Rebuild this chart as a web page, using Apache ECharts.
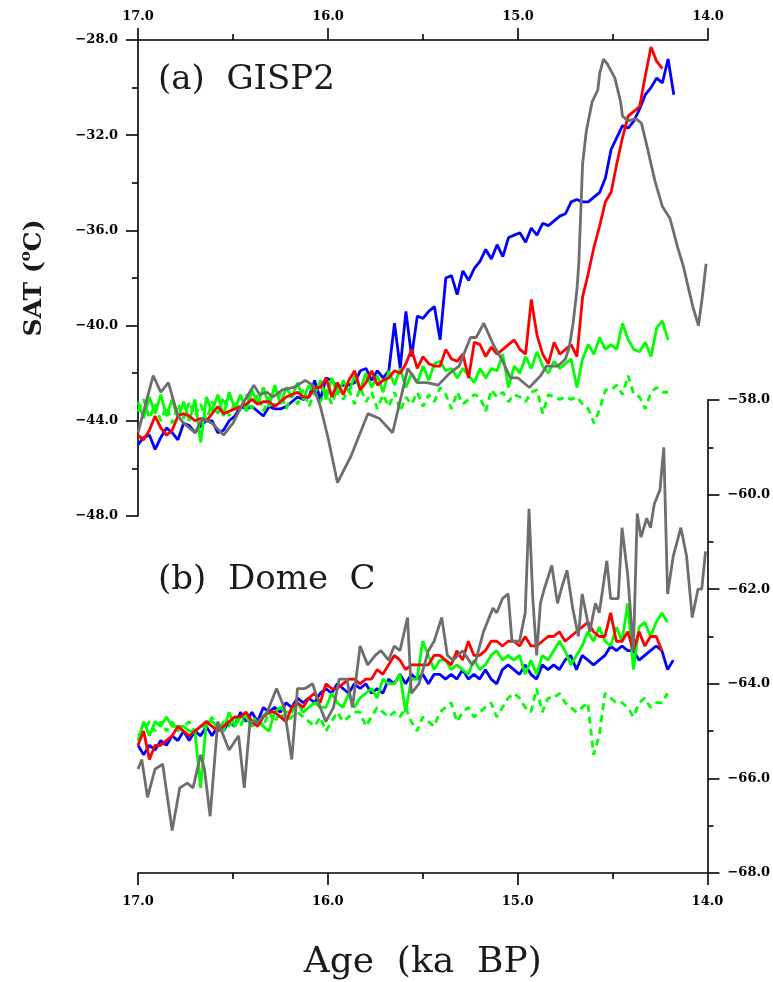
<!DOCTYPE html>
<html>
<head>
<meta charset="utf-8">
<script src="https://cdn.jsdelivr.net/npm/echarts@6/dist/echarts.min.js"></script>
<style>html,body{margin:0;padding:0;background:#fff;}#chart{width:773px;height:982px;}</style>
</head>
<body>
<div id="chart"></div>
<script>
// Shared model age grid (ka BP)
const ages = [17.00,16.97,16.94,16.91,16.88,16.85,16.82,16.79,16.76,16.73,
16.70,16.67,16.64,16.61,16.58,16.55,16.52,16.49,16.46,16.43,
16.40,16.37,16.34,16.31,16.28,16.25,16.22,16.19,16.16,16.13,
16.10,16.07,16.04,16.01,15.98,15.95,15.92,15.89,15.86,15.83,
15.80,15.77,15.74,15.71,15.68,15.65,15.62,15.59,15.56,15.53,
15.50,15.47,15.44,15.41,15.38,15.35,15.32,15.29,15.26,15.23,
15.20,15.17,15.14,15.11,15.08,15.05,15.02,14.99,14.96,14.93,
14.90,14.87,14.84,14.81,14.78,14.75,14.72,14.69,14.66,14.63,
14.60,14.57,14.54,14.51,14.48,14.45,14.42,14.39,14.36,14.33,
14.30,14.27,14.24,14.21,14.18];

// (a) GISP2 panel
const gispBlue = [-45.0,-44.7,-44.6,-45.2,-44.7,-44.3,-44.5,-44.8,-44.1,-44.2,
-44.5,-44.2,-44.0,-44.0,-44.5,-44.4,-44.0,-43.8,-43.4,-43.5,
-43.4,-43.6,-43.8,-43.4,-43.5,-43.5,-43.4,-43.2,-43.0,-43.1,
-43.0,-42.3,-43.1,-42.2,-42.3,-42.6,-42.5,-42.5,-42.4,-41.9,
-41.8,-42.3,-41.9,-42.2,-41.9,-39.9,-41.8,-39.4,-41.3,-39.6,
-39.7,-39.4,-39.2,-40.6,-38.0,-37.9,-38.7,-37.7,-38.1,-37.6,
-37.3,-36.8,-37.2,-36.6,-37.1,-36.3,-36.2,-36.1,-36.5,-35.9,
-36.2,-35.7,-35.8,-35.6,-35.4,-35.3,-34.8,-34.7,-34.8,-34.8,
-34.6,-34.4,-33.8,-32.6,-32.1,-31.6,-31.7,-31.4,-30.9,-30.3,
-30.0,-29.6,-29.8,-28.8,-30.3];
const gispRed = [-44.6,-44.8,-44.4,-43.8,-44.3,-44.6,-44.4,-43.8,-43.7,-43.8,
-44.0,-43.9,-44.0,-43.7,-43.4,-43.7,-43.6,-43.5,-43.4,-43.3,
-43.1,-43.3,-43.2,-43.2,-43.4,-43.2,-43.0,-42.9,-42.8,-43.0,
-43.0,-42.6,-42.6,-42.2,-43.0,-42.4,-42.9,-42.3,-41.9,-42.7,
-42.4,-41.9,-42.5,-42.3,-42.2,-41.9,-42.0,-41.6,-41.0,-41.8,
-41.3,-41.6,-41.7,-41.7,-41.0,-41.4,-41.5,-41.2,-42.2,-40.7,
-40.8,-41.3,-40.9,-41.2,-41.0,-40.8,-40.6,-41.0,-41.2,-38.9,
-40.4,-41.2,-41.6,-40.7,-41.2,-41.0,-40.8,-41.3,-38.8,-37.8,
-36.7,-35.8,-34.8,-34.4,-33.2,-32.1,-31.2,-31.0,-30.8,-29.5,
-28.3,-28.9,-29.2];
const gispGreen = [-43.2,-43.9,-43.0,-43.7,-42.9,-43.8,-43.1,-43.9,-43.2,-44.0,
-43.1,-44.9,-43.0,-43.6,-42.9,-43.8,-42.8,-43.5,-42.9,-43.6,
-42.7,-43.3,-42.6,-43.4,-42.5,-43.3,-42.6,-43.0,-42.4,-43.1,
-42.5,-42.9,-42.3,-43.1,-42.2,-42.9,-42.3,-42.8,-42.1,-42.7,
-42.0,-42.6,-42.1,-42.8,-41.9,-42.5,-41.8,-42.6,-42.0,-42.4,
-41.7,-42.3,-41.6,-41.5,-41.9,-41.8,-42.2,-41.8,-42.1,-42.4,
-41.8,-42.2,-41.8,-41.9,-41.2,-42.6,-41.7,-42.0,-41.3,-41.8,
-41.1,-41.7,-42.0,-41.5,-41.8,-41.6,-41.4,-42.6,-41.4,-40.8,
-41.2,-40.5,-41.0,-40.8,-41.0,-39.9,-40.6,-41.0,-41.1,-40.7,
-41.3,-40.1,-39.8,-40.6];
const gispGreenDash = [-43.6,-43.1,-43.9,-43.3,-44.0,-43.4,-44.1,-43.3,-43.9,-43.2,
-43.8,-43.3,-44.0,-43.2,-43.7,-43.0,-43.8,-43.2,-43.6,-42.9,
-43.5,-42.9,-43.6,-43.0,-43.4,-42.8,-43.5,-42.9,-43.3,-42.7,
-43.4,-42.8,-43.2,-42.7,-43.3,-42.6,-43.1,-42.7,-43.3,-42.6,
-43.2,-42.8,-43.5,-42.9,-43.4,-42.8,-43.6,-43.0,-43.3,-42.8,
-43.4,-42.9,-43.2,-42.6,-42.9,-43.5,-42.8,-43.3,-43.1,-42.9,
-43.0,-43.6,-42.7,-43.0,-42.8,-43.2,-42.9,-43.0,-43.2,-42.8,
-42.7,-43.7,-42.9,-43.0,-43.1,-43.0,-43.1,-43.0,-43.3,-43.5,
-44.1,-43.5,-42.7,-42.7,-42.5,-42.9,-42.1,-42.9,-43.0,-43.5,
-42.8,-42.6,-42.8,-42.8];
const gispGrayAge = [17.00,16.92,16.88,16.84,16.79,16.76,16.70,16.66,16.61,16.55,
16.50,16.45,16.39,16.36,16.32,16.29,16.24,16.18,16.12,16.08,
16.04,16.00,15.95,15.88,15.79,15.73,15.66,15.58,15.53,15.48,
15.42,15.36,15.31,15.25,15.22,15.18,15.13,15.08,15.04,15.00,
14.94,14.88,14.85,14.79,14.75,14.73,14.71,14.69,14.68,14.66,
14.64,14.61,14.58,14.57,14.55,14.53,14.52,14.49,14.46,14.45,
14.42,14.38,14.35,14.32,14.28,14.24,14.20,14.16,14.13,14.08,
14.05,14.03,14.01];
const gispGray = [-44.5,-42.1,-42.8,-42.4,-43.8,-44.1,-44.5,-43.9,-44.1,-44.6,
-44.1,-43.3,-42.5,-42.9,-42.8,-43.0,-42.7,-42.6,-42.3,-42.5,
-43.4,-44.7,-46.6,-45.5,-43.7,-43.9,-44.5,-41.8,-42.4,-42.4,
-42.5,-42.0,-41.7,-40.5,-40.5,-39.9,-40.8,-41.5,-42.2,-42.2,
-42.6,-42.1,-41.7,-41.7,-41.4,-40.9,-39.9,-38.5,-37.4,-33.2,
-31.8,-30.6,-30.1,-29.4,-28.8,-29.0,-29.0,-29.6,-30.6,-31.2,
-31.4,-31.3,-31.5,-32.5,-33.9,-35.0,-35.5,-36.7,-37.5,-39.2,
-40.0,-38.8,-37.4];

// (b) Dome C panel
const domeBlue = [-65.3,-65.5,-65.3,-65.4,-65.2,-65.3,-65.1,-65.2,-65.0,-65.2,
-65.0,-65.1,-64.9,-65.1,-64.9,-65.0,-64.8,-64.9,-64.6,-64.8,
-64.6,-64.8,-64.5,-64.6,-64.5,-64.6,-64.4,-64.5,-64.3,-64.4,
-64.3,-64.4,-64.2,-64.1,-64.2,-64.0,-64.1,-64.2,-64.0,-64.1,
-64.0,-64.2,-64.1,-64.2,-63.9,-64.0,-63.8,-64.0,-63.8,-63.9,
-63.8,-64.0,-63.8,-63.8,-63.9,-63.8,-63.9,-63.7,-63.9,-63.8,
-63.9,-63.7,-63.9,-64.0,-63.7,-63.6,-63.7,-63.8,-63.6,-63.8,
-63.9,-63.6,-63.7,-63.6,-63.7,-63.5,-63.4,-63.7,-63.4,-63.5,
-63.6,-63.5,-63.4,-63.2,-63.3,-63.2,-63.3,-63.3,-63.5,-63.4,
-63.3,-63.2,-63.3,-63.7,-63.5];
const domeRed = [-65.3,-65.0,-65.6,-65.3,-65.3,-65.2,-65.1,-64.9,-65.0,-65.1,
-65.0,-64.9,-64.8,-64.9,-65.0,-64.9,-64.8,-64.7,-64.7,-64.6,
-64.8,-64.9,-64.7,-64.6,-64.6,-64.7,-64.8,-64.5,-64.4,-64.5,
-64.3,-64.2,-64.4,-64.0,-64.1,-64.1,-64.0,-63.9,-63.9,-64.0,
-63.9,-63.9,-63.7,-63.8,-63.6,-63.4,-63.5,-63.7,-63.6,-63.6,
-63.6,-63.6,-63.4,-63.4,-63.5,-63.6,-63.3,-63.5,-63.1,-63.4,
-63.4,-63.3,-63.1,-63.1,-63.2,-63.1,-63.1,-63.2,-63.0,-63.2,
-63.2,-63.1,-63.0,-63.0,-62.9,-63.1,-63.0,-62.9,-62.8,-62.7,
-62.9,-63.0,-63.0,-62.5,-63.1,-63.1,-62.9,-63.3,-62.9,-63.2,
-63.0,-63.0,-63.3];
const domeGreen = [-65.2,-64.8,-65.1,-64.8,-64.9,-64.7,-64.9,-64.9,-64.9,-65.0,
-65.0,-66.2,-64.8,-64.8,-64.9,-65.0,-64.6,-64.9,-64.7,-64.7,
-64.9,-64.8,-64.9,-65.0,-64.6,-64.5,-64.6,-64.6,-64.4,-64.6,
-64.5,-64.4,-64.5,-64.5,-64.2,-64.4,-64.5,-64.2,-64.5,-64.3,
-64.2,-64.1,-64.3,-63.9,-64.0,-64.0,-63.8,-64.6,-63.9,-63.9,
-63.1,-63.4,-63.7,-63.5,-63.5,-63.7,-63.6,-63.7,-63.8,-63.5,
-63.7,-63.6,-63.4,-63.3,-63.5,-63.4,-63.5,-63.4,-63.8,-63.5,
-63.8,-63.4,-63.5,-63.3,-63.1,-63.3,-63.6,-63.4,-63.2,-62.9,
-63.1,-62.8,-63.1,-63.2,-62.8,-63.1,-62.3,-63.7,-62.8,-62.7,
-63.0,-62.7,-62.5,-62.7];
const domeGreenDash = [-65.1,-65.0,-64.8,-65.0,-64.8,-65.0,-64.8,-65.0,-64.9,-64.8,
-65.0,-64.9,-64.9,-64.7,-65.0,-64.8,-64.9,-64.7,-64.9,-64.6,
-64.8,-64.7,-64.9,-64.6,-64.8,-64.6,-64.8,-64.7,-64.6,-64.7,
-64.8,-64.9,-64.7,-65.0,-64.8,-64.6,-64.8,-64.7,-64.6,-64.6,
-64.9,-64.7,-64.5,-64.6,-64.7,-64.6,-64.7,-64.5,-64.8,-65.0,
-64.7,-64.8,-64.9,-64.6,-64.5,-64.4,-64.8,-64.6,-64.5,-64.7,
-64.6,-64.5,-64.4,-64.7,-64.5,-64.3,-64.2,-64.3,-64.5,-64.6,
-64.1,-64.6,-64.3,-64.3,-64.2,-64.4,-64.5,-64.6,-64.5,-64.4,
-65.5,-65.1,-64.2,-64.3,-64.4,-64.4,-64.5,-64.7,-64.4,-64.3,
-64.5,-64.4,-64.4,-64.2];
const domeGrayAge = [17.00,16.98,16.95,16.91,16.87,16.82,16.78,16.74,16.71,16.67,
16.65,16.62,16.58,16.55,16.52,16.47,16.44,16.41,16.37,16.32,
16.27,16.23,16.19,16.16,16.12,16.08,16.04,16.01,15.97,15.94,
15.90,15.87,15.83,15.79,15.75,15.72,15.68,15.65,15.62,15.58,
15.56,15.52,15.47,15.44,15.40,15.37,15.34,15.29,15.24,15.22,
15.18,15.13,15.11,15.08,15.05,15.03,14.99,14.96,14.94,14.92,
14.90,14.88,14.86,14.82,14.79,14.77,14.74,14.71,14.68,14.66,
14.62,14.59,14.57,14.53,14.51,14.47,14.45,14.42,14.39,14.37,
14.35,14.32,14.30,14.28,14.25,14.23,14.21,14.18,14.14,14.11,
14.08,14.05,14.03,14.01];
const domeGray = [-65.8,-65.6,-66.4,-65.8,-65.7,-67.1,-66.2,-66.1,-66.2,-65.5,
-65.8,-66.8,-64.8,-65.1,-65.4,-65.1,-66.2,-64.8,-64.8,-64.6,
-64.1,-64.5,-65.6,-64.1,-64.1,-64.0,-64.5,-64.8,-64.5,-63.9,
-63.9,-64.5,-63.2,-63.6,-63.4,-63.3,-63.5,-63.2,-63.3,-62.6,
-64.2,-64.0,-63.3,-63.1,-62.6,-63.4,-63.5,-63.3,-63.6,-63.5,
-62.9,-62.4,-62.5,-62.2,-62.1,-63.1,-63.1,-62.5,-60.3,-62.2,
-63.4,-62.3,-62.0,-61.5,-62.3,-62.0,-61.6,-62.4,-63.0,-62.1,
-62.9,-62.3,-62.5,-61.4,-62.2,-62.2,-60.7,-61.7,-63.3,-60.4,
-60.9,-60.5,-60.7,-60.2,-59.9,-59.0,-62.1,-61.3,-60.7,-61.3,
-62.6,-62.0,-62.0,-61.2];

// Axis tick settings
const xTicks = {min: 14, max: 17, interval: 1};
const yTicksA = {min: -48, max: -28, interval: 4};
const yTicksB = {min: -68, max: -58, interval: 2};

const COL = {blue: '#0000ff', red: '#ff0000', green: '#00ff00', gray: '#6e6e6e'};
const LABEL_FONT = {fontFamily: '"DejaVu Serif", serif', fontWeight: 'bold', fontSize: 13, color: '#000'};
const fmt = v => (v < 0 ? '\u2212' : '') + Math.abs(v).toFixed(1);
const pairs = (xs, ys) => ys.map((v, i) => [xs[i], v]);

const axLine = {show: true, onZero: false, lineStyle: {color: '#000', width: 1.6}};
const axTick = {show: true, length: 12, lineStyle: {color: '#000', width: 1.6}};
const minTick = {show: true, splitNumber: 2, length: 6, lineStyle: {color: '#000', width: 1.6}};

function xAxisDef(gi, pos, margin, extra) {
  return Object.assign({
    gridIndex: gi, type: 'value', position: pos, inverse: true,
    min: xTicks.min, max: xTicks.max, interval: xTicks.interval,
    axisLine: axLine, axisTick: axTick, minorTick: minTick,
    splitLine: {show: false}, minorSplitLine: {show: false},
    axisLabel: Object.assign({formatter: fmt, margin: margin}, LABEL_FONT)
  }, extra || {});
}
function yAxisDef(gi, pos, t, extra) {
  return Object.assign({
    gridIndex: gi, type: 'value', position: pos,
    min: t.min, max: t.max, interval: t.interval,
    axisLine: axLine, axisTick: axTick, minorTick: minTick,
    splitLine: {show: false}, minorSplitLine: {show: false},
    axisLabel: Object.assign({formatter: fmt, margin: 20}, LABEL_FONT)
  }, extra || {});
}
function line(xi, data, color, dashed, z) {
  return {
    type: 'line', xAxisIndex: xi, yAxisIndex: xi, data: data,
    showSymbol: false, symbol: 'none', z: z, clip: false,
    lineStyle: {color: color, width: 2.8, type: dashed ? [7, 5] : 'solid'},
    emphasis: {disabled: true}
  };
}

const chart = echarts.init(document.getElementById('chart'), null, {renderer: 'canvas'});
chart.setOption({
  animation: false,
  backgroundColor: '#fff',
  grid: [
    {left: 138, top: 40, width: 570, height: 476},
    {left: 138, top: 400, width: 570, height: 477}
  ],
  xAxis: [
    xAxisDef(0, 'top', 17),
    xAxisDef(1, 'bottom', 22, {
      name: 'Age  (ka  BP)', nameLocation: 'middle', nameGap: 72,
      nameTextStyle: {fontFamily: '"DejaVu Serif", serif', fontSize: 36, color: '#1a1a1a'}
    })
  ],
  yAxis: [
    yAxisDef(0, 'left', yTicksA, {
      name: 'SAT ({s|o}C)', nameLocation: 'middle', nameRotate: 90, nameGap: 88,
      nameTextStyle: {
        fontFamily: '"DejaVu Serif", serif', fontSize: 25, fontWeight: 'bold', color: '#1a1a1a',
        rich: {s: {fontFamily: '"DejaVu Serif", serif', fontSize: 15, fontWeight: 'bold', color: '#1a1a1a', padding: [0, 0, 16, 0]}}
      }
    }),
    yAxisDef(1, 'right', yTicksB)
  ],
  graphic: [
    {type: 'text', x: 158, y: 80, style: {text: '(a)  GISP2', fontFamily: '"DejaVu Serif", serif', fontSize: 34, fill: '#1a1a1a', verticalAlign: 'middle', align: 'left'}},
    {type: 'text', x: 158, y: 580, style: {text: '(b)  Dome  C', fontFamily: '"DejaVu Serif", serif', fontSize: 34, fill: '#1a1a1a', verticalAlign: 'middle', align: 'left'}}
  ],
  series: [
    line(0, pairs(ages, gispBlue), COL.blue, false, 2),
    line(0, pairs(ages, gispGreenDash), COL.green, true, 3),
    line(0, pairs(ages, gispGreen), COL.green, false, 4),
    line(0, pairs(ages, gispRed), COL.red, false, 5),
    line(0, pairs(gispGrayAge, gispGray), COL.gray, false, 6),
    line(1, pairs(ages, domeBlue), COL.blue, false, 2),
    line(1, pairs(ages, domeGreenDash), COL.green, true, 3),
    line(1, pairs(ages, domeGreen), COL.green, false, 4),
    line(1, pairs(ages, domeRed), COL.red, false, 5),
    line(1, pairs(domeGrayAge, domeGray), COL.gray, false, 6)
  ]
});
</script>
</body>
</html>
